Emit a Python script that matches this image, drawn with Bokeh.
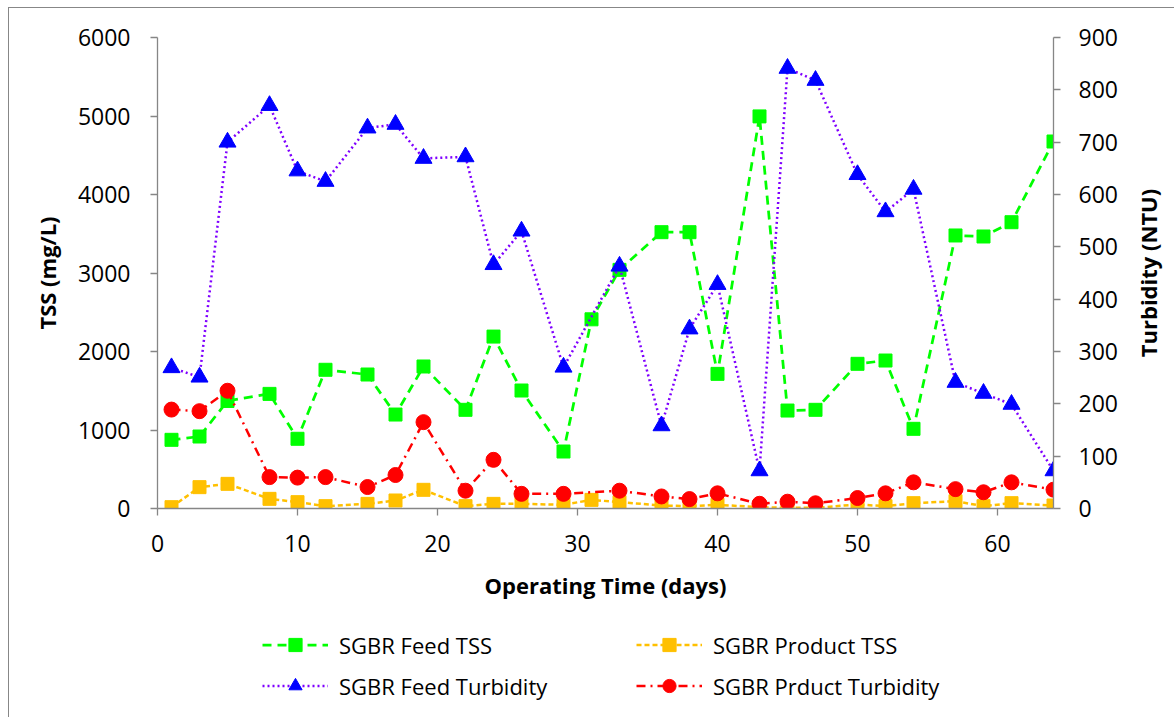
import math
from bokeh.plotting import figure
from bokeh.layouts import column, row
from bokeh.models import Range1d, LinearAxis, Legend, LegendItem, FixedTicker, Label
from bokeh.embed import file_html
from bokeh.resources import INLINE

# ---- data ----
days = [1, 3, 5, 8, 10, 12, 15, 17, 19, 22, 24, 26, 29, 31, 33, 36, 38, 40, 43, 45, 47, 50, 52, 54, 57, 59, 61, 64]
feed_tss = [875, 917, 1370, 1460, 888, 1767, 1707, 1197, 1809, 1257, 2190, 1503, 726, 2410, 3040, 3520, 3520,
            1715, 4995, 1248, 1257, 1843, 1885, 1015, 3478, 3465, 3647, 4675]
product_tss = [17, 272, 314, 123, 81, 30, 59, 102, 238, 30, 59, 59, 47, 110, 81, 38, 30, 47, 17, 8, 8, 51, 30,
               68, 93, 30, 68, 38]
turb_days = [1, 3, 5, 8, 10, 12, 15, 17, 19, 22, 24, 26, 29, 33, 36, 38, 40, 43, 45, 47, 50, 52, 54, 57, 59, 61, 64]
feed_turb = [269, 251, 700, 770, 645, 625, 727, 734, 669, 672, 466, 530, 270, 463, 158, 343, 428, 72, 841, 818,
             638, 567, 610, 241, 220, 199, 72]
product_turb = [189, 186, 225, 60, 59, 60, 41, 64, 165, 34, 93, 28, 28, 34, 23, 18, 29, 9, 13, 10, 20, 29, 50, 37,
                31, 50, 36]
x_ticks = [0, 10, 20, 30, 40, 50, 60]
tss_ticks = [0, 1000, 2000, 3000, 4000, 5000, 6000]
turb_ticks = [0, 100, 200, 300, 400, 500, 600, 700, 800, 900]
series_labels = ["SGBR Feed TSS", "SGBR Product TSS", "SGBR Feed Turbidity", "SGBR Prduct Turbidity"]
series_x = [days, days, turb_days, turb_days]
series_y = [feed_tss, product_tss, feed_turb, product_turb]

FONT = "Open Sans"
AX = "#868686"

STY = [
    dict(color="#00FF00", dash="9 6", lw=2.75, marker="square", mcolor="#00FF00", size=13, rng="default"),
    dict(color="#FFC000", dash="5 3", lw=2.5, marker="square", mcolor="#FFC000", size=13, rng="default"),
    dict(color="#7F00FF", dash="2 3", lw=2.5, marker="triangle", mcolor="#0000FF", size=17, rng="turb"),
    dict(color="#FF0000", dash="9 5 2 5", lw=2.5, marker="circle", mcolor="#FF0000", size=15, rng="turb"),
]

TOP, FH, BOT, LEFT, FW = 29, 471, 110, 148, 896

p = figure(frame_width=FW, frame_height=FH, output_backend="svg", toolbar_location=None,
           x_range=Range1d(0, 64), y_range=Range1d(0, 6000),
           min_border_left=LEFT, min_border_right=70, min_border_top=TOP, min_border_bottom=BOT)
p.extra_y_ranges = {"turb": Range1d(0, 900)}
p.xgrid.visible = False
p.ygrid.visible = False
p.outline_line_color = None
p.background_fill_color = "white"
p.border_fill_color = "white"

right = LinearAxis(y_range_name="turb")
p.add_layout(right, "right")

for ax, ticks in ((p.xaxis[0], x_ticks), (p.yaxis[0], tss_ticks), (right, turb_ticks)):
    ax.ticker = FixedTicker(ticks=ticks)
    ax.axis_line_color = AX
    ax.axis_line_width = 1.3
    ax.major_tick_line_color = AX
    ax.major_tick_line_width = 1.3
    ax.major_tick_out = 7
    ax.major_tick_in = 0
    ax.minor_tick_line_color = None
    ax.major_label_text_font = FONT
    ax.major_label_text_font_size = "23px"
    ax.major_label_text_color = "black"
    ax.axis_label_text_font = FONT
    ax.axis_label_text_font_style = "bold"
    ax.axis_label_text_font_size = "22px"
    ax.axis_label_text_color = "black"

p.xaxis[0].axis_label = "Operating Time (days)"
p.xaxis[0].major_label_standoff = 19
p.xaxis[0].axis_label_standoff = 15
p.yaxis[0].axis_label = "TSS (mg/L)"
p.yaxis[0].major_label_standoff = 20
p.yaxis[0].axis_label_standoff = 13
right.major_label_standoff = 18

# ---- series ----
for xs, ys, s in zip(series_x, series_y, STY):
    p.line(xs, ys, line_color=s["color"], line_width=s["lw"], line_dash=s["dash"], y_range_name=s["rng"])
    p.scatter(xs, ys, marker=s["marker"], size=s["size"], fill_color=s["mcolor"], line_color=s["mcolor"],
              y_range_name=s["rng"])

# ---- right axis title (narrow strip to the right of the chart) ----
r = figure(width=54, frame_height=FH, output_backend="svg", toolbar_location=None,
           x_range=Range1d(0, 1), y_range=Range1d(0, 1),
           min_border_left=0, min_border_right=0, min_border_top=TOP, min_border_bottom=BOT)
r.xaxis.visible = False
r.yaxis.visible = False
r.xgrid.visible = False
r.ygrid.visible = False
r.outline_line_color = None
r.border_fill_color = "white"
r.add_layout(Label(x=24, y=FH / 2, x_units="screen", y_units="screen", text="Turbidity (NTU)",
                   angle=math.pi / 2, text_align="center", text_baseline="middle",
                   text_font=FONT, text_font_style="bold", text_font_size="22px", text_color="black"))

# ---- legend strip below the chart ----
q = figure(frame_width=FW, height=100, output_backend="svg", toolbar_location=None,
           x_range=Range1d(1000, 1001), y_range=Range1d(0, 1),
           min_border_left=LEFT, min_border_right=124, min_border_top=0, min_border_bottom=0)
q.xaxis.visible = False
q.yaxis.visible = False
q.xgrid.visible = False
q.ygrid.visible = False
q.outline_line_color = None
q.background_fill_color = "white"
q.border_fill_color = "white"

items = []
for lab, xs, ys, s in zip(series_labels, series_x, series_y, STY):
    lr = q.line(xs, ys, line_color=s["color"], line_width=s["lw"], line_dash=s["dash"])
    mr = q.scatter(xs, ys, marker=s["marker"], size=s["size"], fill_color=s["mcolor"], line_color=s["mcolor"])
    items.append(LegendItem(label=lab, renderers=[lr, mr]))

lg = Legend(items=items, location=(105, 16), orientation="horizontal", ncols=2)
lg.label_text_font = FONT
lg.label_text_font_size = "22px"
lg.label_text_color = "black"
lg.glyph_width = 66
lg.glyph_height = 33
lg.label_width = 289
lg.label_standoff = 11
lg.spacing = 8
lg.padding = 0
lg.margin = 0
lg.border_line_color = None
lg.background_fill_alpha = 0
q.add_layout(lg, "center")

layout = column(row(p, r, spacing=0), q, spacing=0,
                styles={"margin-left": "9px", "margin-top": "8px", "box-shadow": "-1px -1px 0 0 #878787"})

open("out.html", "w").write(file_html(layout, INLINE))
